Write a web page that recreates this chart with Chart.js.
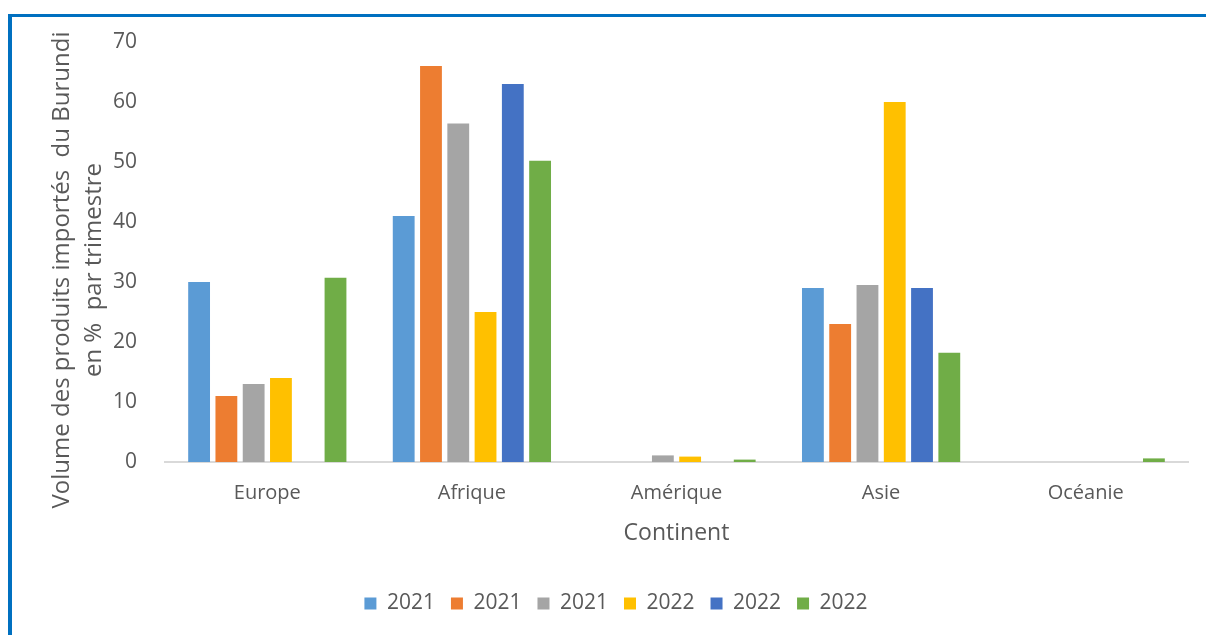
<!DOCTYPE html>
<html>
<head>
<meta charset="utf-8">
<script src="https://cdn.jsdelivr.net/npm/chart.js@4.4.1/dist/chart.umd.min.js"></script>
<style>
  html, body { margin: 0; padding: 0; background: #fff; }
  #frame {
    position: absolute; left: 8px; top: 14px; right: 0; bottom: 0;
    border-left: 4px solid #0070C0; border-top: 3px solid #0070C0;
  }
  #wrap { position: absolute; left: 0; top: 0; width: 1206px; height: 635px; }
</style>
</head>
<body>
<div id="frame"></div>
<div id="wrap"><canvas id="chart"></canvas></div>
<script>
const continents = ['Europe', 'Afrique', 'Amérique', 'Asie', 'Océanie'];
const seriesLabels = ['2021', '2021', '2021', '2022', '2022', '2022'];
const serie1 = [30, 41, 0, 29, 0];
const serie2 = [11, 66, 0, 23, 0];
const serie3 = [13, 56.4, 1.1, 29.5, 0];
const serie4 = [14, 25, 0.9, 60, 0];
const serie5 = [0, 63, 0, 29, 0];
const serie6 = [30.7, 50.2, 0.4, 18.2, 0.6];
const yTitle = ['Volume des produits importés  du Burundi', 'en %  par trimestre'];
const colors = ['#5B9BD5', '#ED7D31', '#A5A5A5', '#FFC000', '#4472C4', '#70AD47'];

const font = "'Open Sans', sans-serif";
const textColor = '#595959';

// vertical axis title, two lines, sitting a bit below the plot's middle
const yTitlePlugin = {
  id: 'yTitle',
  afterDraw(chart) {
    const c = chart.ctx;
    c.save();
    c.fillStyle = textColor;
    c.font = "24px 'Open Sans', sans-serif";
    c.textAlign = 'center';
    c.textBaseline = 'middle';
    yTitle.forEach((line, i) => {
      c.save();
      c.translate(62 + i * 32, 270);
      c.rotate(-Math.PI / 2);
      c.fillText(line, 0, 0);
      c.restore();
    });
    c.restore();
  }
};

const ctx = document.getElementById('chart');
new Chart(ctx, {
  type: 'bar',
  data: {
    labels: continents,
    datasets: [serie1, serie2, serie3, serie4, serie5, serie6].map((d, i) => ({
      label: seriesLabels[i],
      data: d,
      backgroundColor: colors[i],
      borderWidth: 0,
      categoryPercentage: 0.8,
      barPercentage: 0.8
    }))
  },
  plugins: [yTitlePlugin],
  options: {
    responsive: true,
    maintainAspectRatio: false,
    animation: false,
    layout: { padding: { left: 44, right: 18, top: 42, bottom: 11 } },
    plugins: {
      tooltip: { enabled: false },
      legend: {
        position: 'bottom',
        labels: {
          font: { family: font, size: 21 },
          color: textColor,
          boxWidth: 12,
          boxHeight: 12,
          padding: 16
        }
      }
    },
    scales: {
      x: {
        grid: { display: false },
        border: { display: true, color: '#D9D9D9', width: 2 },
        ticks: { font: { family: font, size: 20 }, color: textColor, padding: 11 },
        title: {
          display: true,
          text: 'Continent',
          font: { family: font, size: 23 },
          color: textColor,
          padding: { top: 8, bottom: 30 }
        },
        afterFit: (scale) => { scale.height = 115; }
      },
      y: {
        min: 0,
        max: 70,
        grid: { display: false },
        border: { display: false },
        ticks: { stepSize: 10, font: { family: font, size: 21 }, color: textColor, padding: 20 },
        afterFit: (scale) => { scale.width = 121; }
      }
    }
  }
});
</script>
</body>
</html>
